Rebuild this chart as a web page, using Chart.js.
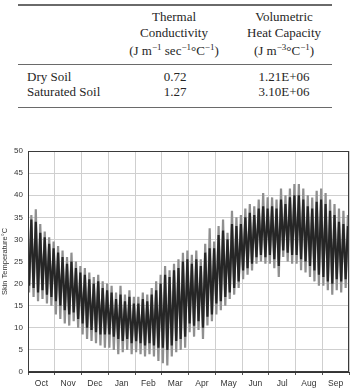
<!DOCTYPE html>
<html>
<head>
<meta charset="utf-8">
<script src="https://cdn.jsdelivr.net/npm/chart.js@4.4.1/dist/chart.umd.min.js"></script>
<style>
  html, body { margin: 0; padding: 0; background: #fff; }
  body { width: 353px; height: 390px; position: relative; overflow: hidden; font-family: "Liberation Serif", "Times New Roman", serif; color: #262626; }
  .t { position: absolute; font-size: 13px; line-height: 16px; white-space: nowrap; }
  .c { transform: translateX(-50%); }
  .rule { position: absolute; left: 18px; width: 314px; background: #6a6a6a; }
  sup { font-size: 9px; vertical-align: 0; position: relative; top: -5px; }
  #wrap { position: absolute; left: 0; top: 140px; width: 353px; height: 250px; }
</style>
</head>
<body>
<div class="rule" style="top:4px;height:1.5px"></div>
<div class="t c" style="left:174px;top:9px">Thermal</div>
<div class="t c" style="left:284px;top:9px">Volumetric</div>
<div class="t c" style="left:174px;top:25px">Conductivity</div>
<div class="t c" style="left:284px;top:25px">Heat Capacity</div>
<div class="t c" style="left:174px;top:43px">(J m<sup>−1</sup> sec<sup>−1</sup>°C<sup>−1</sup>)</div>
<div class="t c" style="left:284px;top:43px">(J m<sup>−3</sup>°C<sup>−1</sup>)</div>
<div class="rule" style="top:64px;height:1px"></div>
<div class="t" style="left:27px;top:69px">Dry Soil</div>
<div class="t c" style="left:175px;top:69px">0.72</div>
<div class="t c" style="left:284px;top:69px">1.21E+06</div>
<div class="t" style="left:27px;top:84px">Saturated Soil</div>
<div class="t c" style="left:175px;top:84px">1.27</div>
<div class="t c" style="left:284px;top:84px">3.10E+06</div>
<div class="rule" style="top:107px;height:1px"></div>

<div id="wrap"><canvas id="c"></canvas></div>
<script>
// ---- data (about 5-day steps, 6 per month, Oct..Sep) ----
const months = ['Oct','Nov','Dec','Jan','Feb','Mar','Apr','May','Jun','Jul','Aug','Sep'];
const yTickValues = [0,5,10,15,20,25,30,35,40,45,50];
const samplesPerMonth = 6;

// lighter series (larger diurnal range)
const grayHigh = [
  35.5,36.8,33.5,31.8,30.5,29.5,
  28.5,27.5,26.0,27.0,25.0,24.0,
  23.5,22.5,21.5,22.0,20.5,20.0,
  19.5,18.0,19.5,17.5,18.5,17.0,
  17.0,18.0,17.5,19.0,20.5,22.0,
  24.0,23.0,24.5,25.5,27.0,27.5,
  26.5,27.5,25.5,29.0,32.5,29.5,
  33.0,34.5,31.5,36.5,35.0,35.5,
  37.0,38.0,37.5,39.0,40.5,39.5,
  39.5,39.0,41.5,40.0,41.5,42.5,
  42.5,41.5,40.0,39.5,41.0,41.5,
  40.5,39.0,38.0,37.0,36.5,35.5
];
const grayLow = [
  18.0,17.0,16.0,16.5,15.5,15.0,
  13.0,12.0,11.0,10.5,11.5,10.0,
  8.5,7.5,7.0,6.5,6.0,5.5,
  5.5,5.0,4.0,4.5,5.0,4.0,
  4.5,4.0,3.5,4.0,3.5,2.5,
  2.0,1.5,3.5,4.5,5.0,5.5,
  9.0,8.0,9.5,7.5,10.5,11.5,
  13.0,14.0,15.0,16.5,17.5,19.0,
  21.0,22.0,23.0,24.5,25.0,24.5,
  24.5,23.5,21.5,26.0,25.0,24.5,
  24.5,23.0,22.5,21.5,20.5,19.5,
  19.5,18.5,17.5,18.5,18.0,19.0
];
// darker series (smaller diurnal range)
const darkHigh = [
  34.5,34.0,31.5,30.5,29.0,28.0,
  27.0,26.0,24.5,25.0,23.5,22.5,
  22.0,21.0,20.0,20.5,19.0,18.5,
  18.0,16.5,17.5,16.0,17.0,15.5,
  15.5,16.5,16.0,17.5,18.5,20.0,
  22.0,21.5,23.0,23.5,25.0,25.5,
  24.5,25.5,24.0,27.0,28.0,28.0,
  31.0,32.0,30.0,33.5,33.0,33.5,
  35.0,36.0,35.5,37.0,37.5,37.0,
  37.5,37.0,39.0,38.0,39.5,40.0,
  40.0,39.0,37.5,37.0,38.5,39.0,
  38.0,36.5,35.5,34.0,33.5,33.0
];
const darkLow = [
  19.5,19.0,18.0,18.5,17.5,17.0,
  16.0,15.0,14.0,13.0,13.5,12.0,
  11.0,10.0,9.5,9.0,8.5,8.5,
  8.5,8.0,7.5,7.0,7.5,6.5,
  7.0,6.5,6.0,6.5,6.0,5.5,
  5.5,5.0,6.0,7.0,7.5,8.0,
  11.0,10.5,11.5,10.0,12.5,13.0,
  15.5,16.0,17.0,18.0,19.0,20.5,
  23.0,23.5,24.5,26.0,26.5,26.0,
  26.5,25.5,24.0,27.5,27.0,26.5,
  26.5,25.5,25.0,24.0,23.0,22.0,
  21.5,20.5,20.0,21.0,20.5,21.0
];

function zigzag(lo, hi) {
  const pts = [];
  lo.forEach((v, i) => {
    pts.push({ x: (i + 0.25) / samplesPerMonth, y: v });
    pts.push({ x: (i + 0.75) / samplesPerMonth, y: hi[i] });
  });
  return pts;
}

const frame = {
  id: 'frame',
  afterDatasetsDraw(chart) {
    const a = chart.chartArea, ctx = chart.ctx;
    ctx.save();
    ctx.strokeStyle = '#3a3a3a';
    ctx.lineWidth = 1;
    ctx.strokeRect(Math.round(a.left) + 0.5, Math.round(a.top) + 0.5, Math.round(a.right - a.left) - 1, Math.round(a.bottom - a.top) - 1);
    ctx.restore();
  }
};

const font = "'Liberation Sans', Arial, sans-serif";
new Chart(document.getElementById('c'), {
  type: 'line',
  data: {
    datasets: [
      { data: zigzag(darkLow, darkHigh), borderColor: '#262626', borderWidth: 2.2, pointRadius: 0, tension: 0, borderJoinStyle: 'miter' },
      { data: zigzag(grayLow, grayHigh), borderColor: '#8f8f8f', borderWidth: 2.2, pointRadius: 0, tension: 0, borderJoinStyle: 'miter' }
    ]
  },
  options: {
    responsive: true,
    maintainAspectRatio: false,
    animation: false,
    devicePixelRatio: 1,
    layout: { padding: { top: 11, right: 2, left: 0, bottom: 0 } },
    plugins: { legend: { display: false }, tooltip: { enabled: false } },
    scales: {
      x: {
        type: 'linear', min: 0, max: 12,
        afterBuildTicks: (s) => { s.ticks = months.map((m, i) => ({ value: i })).concat([{ value: 12 }]); },
        afterFit: (s) => { s.height = 18; },
        ticks: {
          autoSkip: false, maxRotation: 0, padding: 4,
          labelOffset: 13.4,
          callback: (v) => months[v] || '',
          color: '#333', font: { family: font, size: 8.5 }
        },
        grid: { color: '#cfcfcf', lineWidth: 1, tickLength: 3, tickColor: '#555' },
        border: { color: '#333', width: 1 }
      },
      y: {
        min: 0, max: 50,
        afterBuildTicks: (s) => { s.ticks = yTickValues.map(v => ({ value: v })); },
        afterFit: (s) => { s.width = 28; },
        ticks: { padding: 5, color: '#333', font: { family: font, size: 8 } },
        grid: { color: '#cfcfcf', lineWidth: 1, tickLength: 0 },
        border: { color: '#333', width: 1 },
        title: { display: true, text: 'Skin Temperature°C', color: '#333', font: { family: font, size: 7.5 }, padding: { top: 0, bottom: 1 } }
      }
    }
  },
  plugins: [frame]
});
</script>
</body>
</html>
